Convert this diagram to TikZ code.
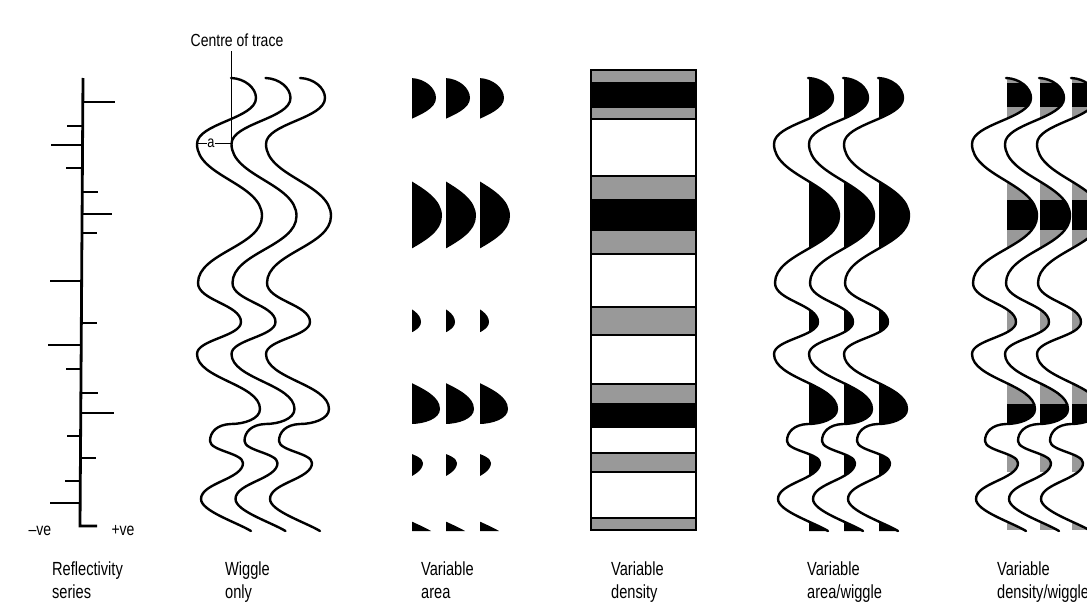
\documentclass[tikz,border=0pt]{standalone}
\usepackage{fontspec}
\setmainfont{Liberation Sans}
\definecolor{bandgray}{gray}{0.6}
\newcommand{\TrPath}[1]{#1 (0,78) .. controls (14,78.5) and (25,88) .. (25,98)
 .. controls (25,118.7) and (-34,123.3) .. (-34,144)
 .. controls (-34,176.4) and (31,183.6) .. (31,216)
 .. controls (31,246.2) and (-33,252.9) .. (-33,283)
 .. controls (-33,300.6) and (10,304.5) .. (10,322)
 .. controls (10,336.4) and (-34,339.6) .. (-34,354)
 .. controls (-34,378.8) and (29,384.3) .. (29,409)
 .. controls (29,419) and (13,424) .. (0,424)
 .. controls (-14,424.5) and (-21,432) .. (-21,441)
 .. controls (-21,450.9) and (12,453.1) .. (12,463)
 .. controls (12,479.2) and (-30,482.8) .. (-30,499)
 .. controls (-30,511) and (5,522) .. (20,531)}
\newcommand{\BandList}{70/83/bandgray,83/107/black,107/119/bandgray,119/176/white,176/200/bandgray,200/230/black,230/254/bandgray,254/307/white,307/335/bandgray,335/384/white,384/404/bandgray,404/427/black,427/453/white,453/472/bandgray,472/518/white,518/530/bandgray}
\begin{document}
\begin{tikzpicture}[x=1pt,y=-1pt,
  wig/.style={line width=2.4pt,line cap=round,line join=round},
  refl/.style={line width=2.8pt},
  lab/.style={font=\fontsize{19}{23}\selectfont,xscale=0.77,align=left,anchor=north west,inner sep=0pt},
  small/.style={font=\fontsize{17.5}{20}\selectfont,xscale=0.8,inner sep=0pt}]
\clip (0,0) rectangle (1087,613);
\fill[white] (0,0) rectangle (1087,613);
% ---------- Reflectivity series ----------
\coordinate (rtop) at (83,78);
\coordinate (rbot) at (80,526);
\coordinate (rend) at (97,526);
\draw[refl] (rtop) -- (rbot) -- (rend);
\foreach \yy/\ll in {102/32,126/-16,145/-32,168/-16,192/16,214/30,233/15,281/-32,323/16,345/-33,369/-15,393/17,413/33,436/-14,458/16,481/-15,503/-30}{
  \draw[refl] ({83-3*(\yy-78)/448},\yy) -- ++(\ll,0);
}
\node[small] (neg) at (40,531) {–ve};
\node[small] (pos) at (123,531) {+ve};
\node[lab] (lrefl) at (52,562) {Reflectivity\\series};
% ---------- Wiggle only ----------
\foreach \xx in {231,265.5,300}{
  \begin{scope}[shift={(\xx,0)}]
    \TrPath{\draw[wig]};
  \end{scope}
}
\node[small] (ctr) at (237,40) {Centre of trace};
\coordinate (ctop) at (231,51);
\coordinate (cbot) at (231,143);
\draw[line width=0.9pt] (ctop) -- (cbot);
\node[small,font=\fontsize{16}{18}\selectfont] (alab) at (211,143) {a};
\coordinate (aL) at (196,143);
\draw[line width=0.9pt] (aL) -- (alab.west);
\draw[line width=0.9pt] (alab.east) -- (cbot);
\node[lab] (lwig) at (225,562) {Wiggle\\only};
% ---------- Variable area ----------
\foreach \xx in {411,445,479}{
  \begin{scope}[shift={(\xx,0)}]
    \clip (1,0) rectangle (60,613);
    \TrPath{\fill} -- (0,531) -- cycle;
  \end{scope}
}
\node[lab] (larea) at (421,562) {Variable\\area};
% ---------- Variable density ----------
\foreach \a/\b/\c in \BandList{
  \filldraw[fill=\c,draw=black,line width=1.3pt] (591,\a) rectangle (696,\b);
}
\draw[line width=2.4pt] (591,70) rectangle (696,530);
\node[lab] (ldens) at (611,562) {Variable\\density};
% ---------- Variable area/wiggle ----------
\foreach \xx in {808,843,878}{
  \begin{scope}[shift={(\xx,0)}]
    \begin{scope}
      \clip (1,0) rectangle (60,613);
      \TrPath{\fill} -- (0,531) -- cycle;
    \end{scope}
    \TrPath{\draw[wig]};
  \end{scope}
}
\node[lab] (lareaw) at (807,562) {Variable\\area/wiggle};
% ---------- Variable density/wiggle ----------
\foreach \xx in {1006,1039,1071}{
  \begin{scope}[shift={(\xx,0)}]
    \begin{scope}
      \clip (1,0) rectangle (60,613);
      \TrPath{\clip} -- (0,531) -- cycle;
      \foreach \a/\b/\c in \BandList{
        \fill[\c] (0,\a) rectangle (60,\b);
      }
    \end{scope}
    \TrPath{\draw[wig]};
  \end{scope}
}
\node[lab] (ldensw) at (997,562) {Variable\\density/wiggle};
\end{tikzpicture}
\end{document}
